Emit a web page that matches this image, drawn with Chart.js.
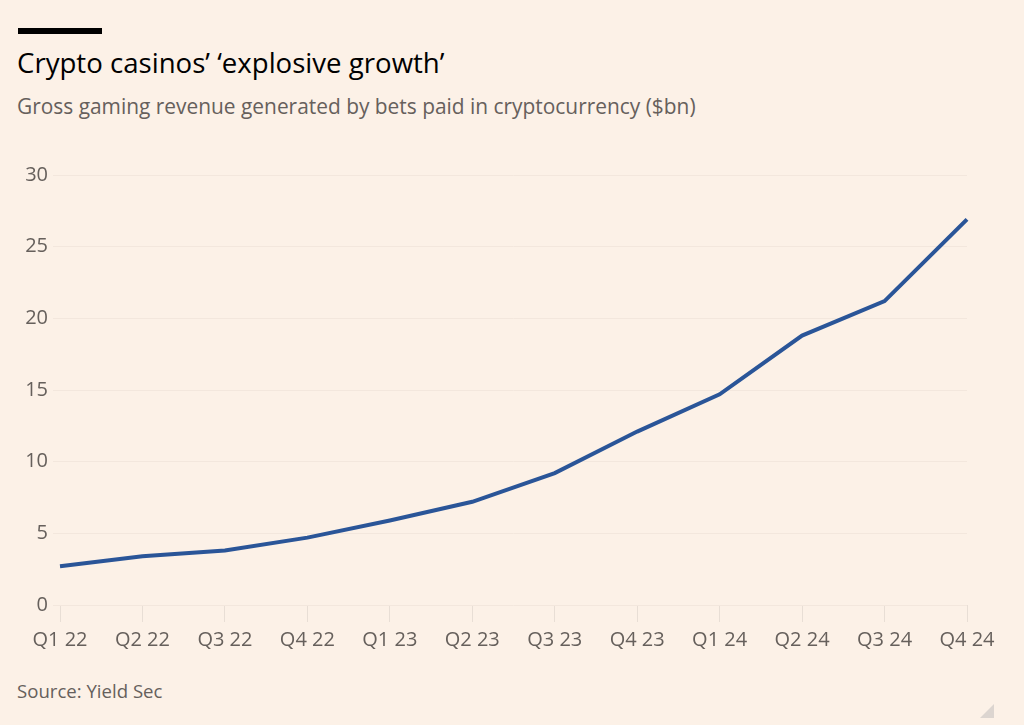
<!DOCTYPE html>
<html lang="en">
<head>
    <meta charset="UTF-8">
    <title>Crypto casinos</title>
    <script src="https://cdn.jsdelivr.net/npm/chart.js"></script>
    <style>
        html, body { margin: 0; padding: 0; background: #fcf1e7; }
        body { width: 1024px; height: 725px; position: relative; overflow: hidden; font-family: "Open Sans", sans-serif; }
        .bar { position: absolute; left: 18px; top: 28px; width: 84px; height: 6px; background: #000; }
        .title { position: absolute; left: 17px; top: 44px; font-size: 27.6px; line-height: 36px; color: #000; white-space: nowrap; }
        .sub { position: absolute; left: 17px; top: 92px; font-size: 20.9px; line-height: 28px; color: #66605c; white-space: nowrap; }
        .source { position: absolute; left: 17px; top: 678px; font-size: 18.6px; line-height: 26px; color: #66605c; white-space: nowrap; }
        .chartbox { position: absolute; left: 0; top: 150px; width: 1024px; height: 520px; }
        .corner { position: absolute; left: 980px; top: 704px; width: 0; height: 0;
                  border-left: 14px solid transparent; border-bottom: 14px solid #dcd5d0; }
    </style>
</head>
<body>
<div class="bar"></div>
<div class="title">Crypto casinos’ ‘explosive growth’</div>
<div class="sub">Gross gaming revenue generated by bets paid in cryptocurrency ($bn)</div>
<div class="chartbox"><canvas id="myChart"></canvas></div>
<div class="source">Source: Yield Sec</div>
<div class="corner"></div>

<script>
    const quarters = ['Q1 22', 'Q2 22', 'Q3 22', 'Q4 22', 'Q1 23', 'Q2 23', 'Q3 23', 'Q4 23', 'Q1 24', 'Q2 24', 'Q3 24', 'Q4 24'];
    const revenue = [2.7, 3.4, 3.8, 4.7, 5.9, 7.2, 9.2, 12.1, 14.7, 18.8, 21.2, 26.9];
    const yTicks = [0, 5, 10, 15, 20, 25, 30];

    const ctx = document.getElementById('myChart').getContext('2d');

    const chart = new Chart(ctx, {
        type: 'line',
        data: {
            labels: quarters,
            datasets: [{
                data: revenue,
                borderColor: '#2a5598',
                borderWidth: 4,
                pointRadius: 0,
                tension: 0,
                fill: false
            }]
        },
        options: {
            responsive: true,
            maintainAspectRatio: false,
            animation: false,
            layout: { padding: { top: 25, right: 57, bottom: 0, left: 0 } },
            plugins: { legend: { display: false }, tooltip: { enabled: false } },
            scales: {
                x: {
                    offset: false,
                    border: { display: false },
                    grid: { drawOnChartArea: false, drawTicks: true, tickLength: 17, color: '#e8ded5', lineWidth: 1 },
                    ticks: { color: '#66605c', font: { family: 'Open Sans', size: 20 }, padding: 6, maxRotation: 0, autoSkip: false },
                    afterFit: function(scale) { scale.height = 65; }
                },
                y: {
                    min: 0,
                    max: 30,
                    border: { display: false },
                    grid: { color: '#f3e7dd', tickLength: 7, lineWidth: 1 },
                    afterBuildTicks: function(scale) {
                        scale.ticks = yTicks.map(v => ({ value: v }));
                    },
                    ticks: { color: '#66605c', font: { family: 'Open Sans', size: 20 }, padding: 5 },
                    afterFit: function(scale) { scale.width = 60; }
                }
            }
        }
    });
</script>
</body>
</html>
